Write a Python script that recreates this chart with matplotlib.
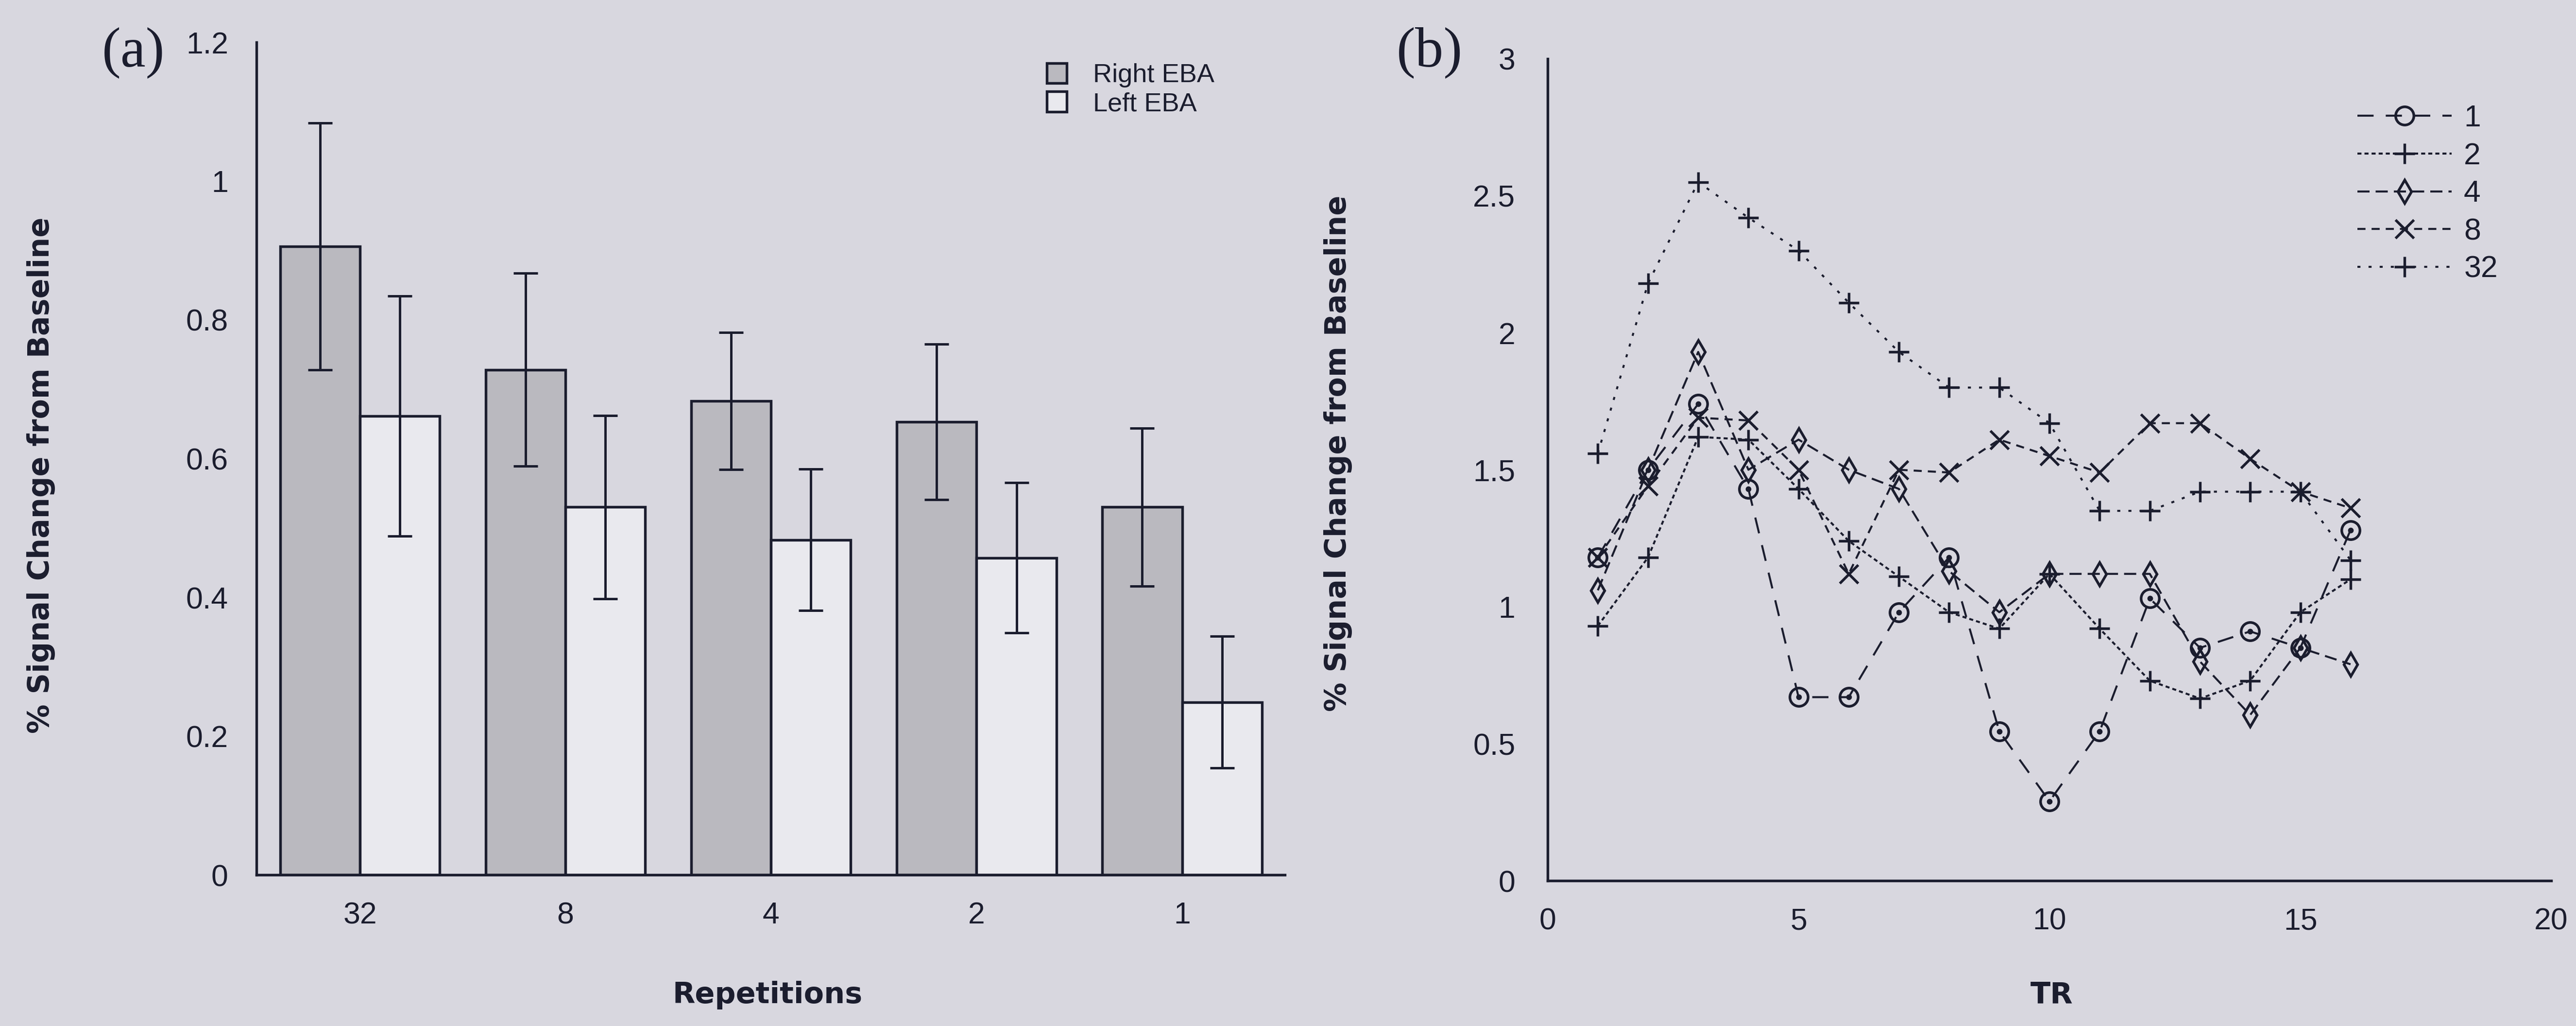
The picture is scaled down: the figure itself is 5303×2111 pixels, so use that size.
import matplotlib
matplotlib.use('Agg')
import matplotlib.pyplot as plt
from matplotlib import font_manager
from matplotlib.ticker import FuncFormatter
import numpy as np

# Panel (a): bar data
repetitions = ['32', '8', '4', '2', '1']
right_eba = [0.906, 0.728, 0.683, 0.653, 0.530]
right_err = [0.178, 0.139, 0.099, 0.112, 0.114]
left_eba = [0.661, 0.530, 0.483, 0.457, 0.249]
left_err = [0.173, 0.132, 0.102, 0.108, 0.095]

# Panel (b): time courses per repetition condition
tr = list(range(1, 17))
rep_1 = [1.18, 1.50, 1.74, 1.43, 0.67, 0.67, 0.98, 1.18, 0.545, 0.29, 0.545, 1.03, 0.85, 0.91, 0.85, 1.28]
rep_2 = [0.93, 1.18, 1.62, 1.61, 1.43, 1.24, 1.11, 0.98, 0.92, 1.12, 0.92, 0.73, 0.665, 0.73, 0.98, 1.10]
rep_4 = [1.06, 1.50, 1.93, 1.50, 1.61, 1.50, 1.43, 1.13, 0.98, 1.12, 1.12, 1.12, 0.80, 0.605, 0.85, 0.79]
rep_8 = [1.18, 1.44, 1.69, 1.68, 1.50, 1.12, 1.50, 1.49, 1.61, 1.55, 1.49, 1.67, 1.67, 1.54, 1.42, 1.36]
rep_32 = [1.56, 2.18, 2.55, 2.42, 2.30, 2.11, 1.93, 1.80, 1.80, 1.67, 1.35, 1.35, 1.42, 1.42, 1.42, 1.17]


def pick_font(*names):
    """Return the first installed family out of names."""
    available = {f.name for f in font_manager.fontManager.ttflist}
    for n in names:
        if n in available:
            return n
    return 'DejaVu Sans'


BG = '#d8d7df'
INK = '#1b1d2e'
TICK_FONT = pick_font('Liberation Sans', 'Arial')
LABEL_FONT = 'DejaVu Sans'
SERIF_FONT = pick_font('Liberation Serif', 'DejaVu Serif')

plt.rcParams['text.color'] = INK
plt.rcParams['axes.edgecolor'] = INK


def style_axes(ax, ypad):
    ax.set_facecolor(BG)
    for side in ['top', 'right']:
        ax.spines[side].set_visible(False)
    for side in ['left', 'bottom']:
        ax.spines[side].set_linewidth(1.3)
        ax.spines[side].set_color(INK)
    ax.tick_params(axis='both', length=0, colors=INK, labelsize=15)
    ax.tick_params(axis='x', pad=13)
    ax.tick_params(axis='y', pad=ypad)
    for lab in ax.get_xticklabels() + ax.get_yticklabels():
        lab.set_family(TICK_FONT)
    ax.yaxis.set_major_formatter(FuncFormatter(lambda v, p: f'{v:g}'))


def plot_bars(fig):
    ax = fig.add_axes([0.0996, 0.1473, 0.3992, 0.8115])
    x = np.arange(len(repetitions))
    w = 0.388
    err_kw = dict(ecolor=INK, elinewidth=1.2, capthick=1.2)
    ax.bar(x - w / 2, right_eba, w, yerr=right_err, capsize=6,
           color='#bab9bf', edgecolor=INK, linewidth=1.3,
           error_kw=err_kw, label='Right EBA')
    ax.bar(x + w / 2, left_eba, w, yerr=left_err, capsize=6,
           color='#e9e9ee', edgecolor=INK, linewidth=1.3,
           error_kw=err_kw, label='Left EBA')
    ax.set_xlim(-0.503, 4.5)
    ax.set_ylim(0, 1.2)
    ax.set_yticks([0, 0.2, 0.4, 0.6, 0.8, 1.0, 1.2])
    ax.set_xticks(x)
    ax.set_xticklabels(repetitions)
    style_axes(ax, 14)

    leg = ax.legend(loc='upper left', bbox_to_anchor=(0.7686, 0.975),
                    frameon=False, fontsize=13, handlelength=0.75,
                    handleheight=0.8, handletextpad=1.0, labelspacing=0.15,
                    borderpad=0, borderaxespad=0)
    for t in leg.get_texts():
        t.set_family(TICK_FONT)
    return ax


def plot_lines(fig):
    ax = fig.add_axes([0.6008, 0.1416, 0.3896, 0.8011])
    common = dict(color=INK, linewidth=1.0, markeredgewidth=1.3)
    ax.plot(tr, rep_1, linestyle=(0, (8, 6)), marker='o', markersize=9,
            markerfacecolor='none', label='1', **common)
    ax.plot(tr, rep_1, linestyle='none', marker='o', markersize=1.8,
            color=INK)
    ax.plot(tr, rep_2, linestyle=(0, (2, 1.5)), marker='+', markersize=10,
            label='2', **common)
    ax.plot(tr, rep_4, linestyle=(0, (6, 3)), marker='d', markersize=8,
            markerfacecolor='none', label='4', **common)
    ax.plot(tr, rep_8, linestyle=(0, (4, 3)), marker='x', markersize=9,
            label='8', **common)
    ax.plot(tr, rep_32, linestyle=(0, (1.5, 4)), marker='+', markersize=10,
            label='32', **common)
    ax.set_xlim(0, 20)
    ax.set_ylim(0, 3)
    ax.set_xticks([0, 5, 10, 15, 20])
    ax.set_yticks([0, 0.5, 1, 1.5, 2, 2.5, 3])
    style_axes(ax, 16)

    handles, labels = ax.get_legend_handles_labels()
    leg = ax.legend(handles, labels, loc='upper left',
                    bbox_to_anchor=(0.807, 0.945), frameon=False,
                    fontsize=15, handlelength=3.1, handletextpad=0.4,
                    labelspacing=0.3, borderpad=0, borderaxespad=0)
    for t in leg.get_texts():
        t.set_family(TICK_FONT)
    return ax


def plot_data():
    figure = plt.figure(figsize=(5303 / 300, 2111 / 300), dpi=300)
    figure.patch.set_facecolor(BG)

    plot_bars(figure)
    plot_lines(figure)

    # Panel letters and axis titles
    figure.text(0.0517, 0.949, '(a)', family=SERIF_FONT, fontsize=28,
                ha='center', va='center')
    figure.text(0.555, 0.949, '(b)', family=SERIF_FONT, fontsize=28,
                ha='center', va='center')
    lab = dict(family=LABEL_FONT, fontsize=14.5, fontweight='bold',
               ha='center', va='center')
    figure.text(0.016, 0.537, '% Signal Change from Baseline',
                rotation=90, **lab)
    figure.text(0.5195, 0.558, '% Signal Change from Baseline',
                rotation=90, **lab)
    figure.text(0.298, 0.030, 'Repetitions', **lab)
    figure.text(0.7965, 0.030, 'TR', **lab)

    figure.savefig('out.png', dpi=300, facecolor=BG)


if __name__ == '__main__':
    plot_data()
